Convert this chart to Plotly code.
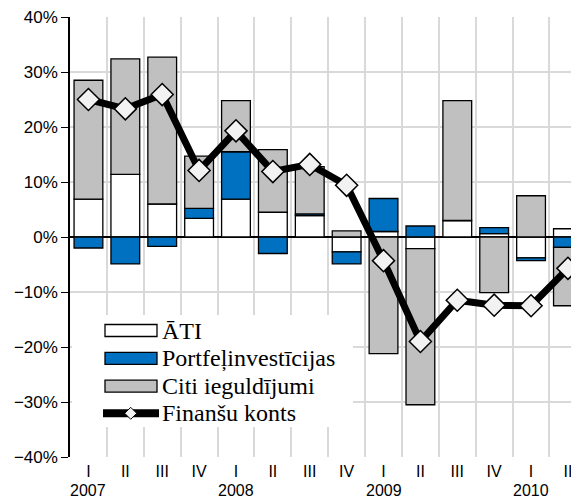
import plotly.graph_objects as go

# quarterly data, % of GDP
years = ["2007"] * 4 + ["2008"] * 4 + ["2009"] * 4 + ["2010"] * 2
quarters = ["I", "II", "III", "IV"] * 3 + ["I", "II"]
ati = [6.9, 11.4, 6.0, 3.4, 6.9, 4.5, 3.9, -2.7, 1.0, -2.1, 3.0, 0.6, -3.8, 1.5]
portf = [-2.0, -4.9, -1.7, 1.8, 8.6, -3.0, 0.3, -2.2, 6.0, 2.0, 0.0, 1.1, -0.5, -1.9]
citi = [21.6, 21.0, 26.7, 9.5, 9.3, 11.4, 8.6, 1.1, -21.2, -28.4, 21.8, -10.1, 7.5, -10.6]
finansu = [25.0, 23.3, 25.9, 12.1, 19.3, 11.9, 13.2, 9.4, -4.3, -19.0, -11.5, -12.4, -12.5, -5.7]

series_names = ["ĀTI", "Portfeļinvestīcijas", "Citi ieguldījumi", "Finanšu konts"]

WHITE = "#ffffff"
BLUE = "#0070c0"
GRAY = "#c0c0c0"
GRID = "#d9d9d9"

cats = [f"{q} {y}" for q, y in zip(quarters, years)]

fig = go.Figure()
for name, vals, color in zip(series_names[:3], [ati, portf, citi], [WHITE, BLUE, GRAY]):
    fig.add_trace(
        go.Bar(
            x=cats,
            y=vals,
            name=name,
            marker={"color": color, "line": {"color": "#000000", "width": 1.3}},
            showlegend=False,
        )
    )
fig.add_trace(
    go.Scatter(
        x=cats,
        y=finansu,
        name=series_names[3],
        mode="lines+markers",
        line={"color": "#000000", "width": 7},
        marker={"symbol": "diamond", "size": 17, "color": "#f2f2f2",
                "line": {"color": "#000000", "width": 1.5}},
        showlegend=False,
    )
)

# page body has an 8px margin, so the figure is drawn 8px in from the corner
OFF = 8
W, H = 579 - OFF, 500 - OFF
# plot area in page pixels
L, R, T, B = 70, 579, 17, 457


def px_x(x):
    return (x - L) / (R - L)


def px_y(y):
    return (B - y) / (B - T)


shapes = [
    dict(type="rect", xref="paper", yref="paper", x0=px_x(72), x1=px_x(353),
         y0=px_y(427), y1=px_y(315), fillcolor="white", line={"width": 0}, layer="above"),
]
annotations = []
rows = [330.5, 358.3, 386.2, 413.3]
for name, color, cy in zip(series_names[:3], [WHITE, BLUE, GRAY], rows[:3]):
    shapes.append(dict(type="rect", xref="paper", yref="paper", x0=px_x(105), x1=px_x(157),
                       y0=px_y(cy + 6), y1=px_y(cy - 6), fillcolor=color,
                       line={"color": "#000000", "width": 1.3}, layer="above"))
cy = rows[3]
shapes.append(dict(type="line", xref="paper", yref="paper", x0=px_x(103), x1=px_x(159),
                   y0=px_y(cy), y1=px_y(cy), line={"color": "#000000", "width": 8}, layer="above"))
cx, d = 130.7, 6
shapes.append(dict(type="path", xref="paper", yref="paper",
                   path=(f"M {px_x(cx - d)} {px_y(cy)} L {px_x(cx)} {px_y(cy - d)} "
                         f"L {px_x(cx + d)} {px_y(cy)} L {px_x(cx)} {px_y(cy + d)} Z"),
                   fillcolor="#f2f2f2", line={"color": "#000000", "width": 1}, layer="above"))
for name, cy in zip(series_names, rows):
    annotations.append(dict(text=name, xref="paper", yref="paper", x=px_x(160), y=px_y(cy),
                            xanchor="left", yanchor="middle", showarrow=False,
                            font={"family": "Liberation Serif", "size": 24, "color": "#000000"}))

# year labels under the first quarter of each year
for cat, q, y in zip(cats, quarters, years):
    if q == "I":
        annotations.append(dict(text=y, xref="x", yref="paper", x=cat, y=px_y(490.5),
                                xanchor="center", yanchor="middle", showarrow=False,
                                borderpad=0,
                                font={"size": 16, "color": "#000000"}))

fig.update_layout(
    width=W,
    height=H,
    barmode="relative",
    bargap=0.22,
    margin={"l": L - OFF, "r": 0, "t": T - OFF, "b": H - (B - OFF)},
    paper_bgcolor="white",
    plot_bgcolor="white",
    font={"family": "Liberation Sans", "size": 17, "color": "#000000"},
    shapes=shapes,
    annotations=annotations,
)
fig.update_xaxes(
    type="category",
    range=[-0.5, 13.3],
    tickmode="array",
    tickvals=cats,
    ticktext=quarters,
    tickson="boundaries",
    ticks="",
    tickangle=0,
    ticklabelstandoff=3,
    ticklabeloverflow="allow",
    automargin=False,
    showgrid=True,
    gridcolor=GRID,
    gridwidth=1.5,
    showline=False,
    tickfont={"size": 16},
)
fig.update_yaxes(
    range=[-40, 40],
    dtick=10,
    ticksuffix="%",
    automargin=False,
    ticklabeloverflow="allow",
    showgrid=True,
    gridcolor=GRID,
    gridwidth=1.5,
    showline=True,
    linecolor="#000000",
    linewidth=1.5,
    ticks="outside",
    ticklen=7,
    tickcolor="#000000",
    zeroline=True,
    zerolinecolor="#000000",
    zerolinewidth=1.5,
    tickfont={"size": 17},
)

fig.write_html("out.html")
